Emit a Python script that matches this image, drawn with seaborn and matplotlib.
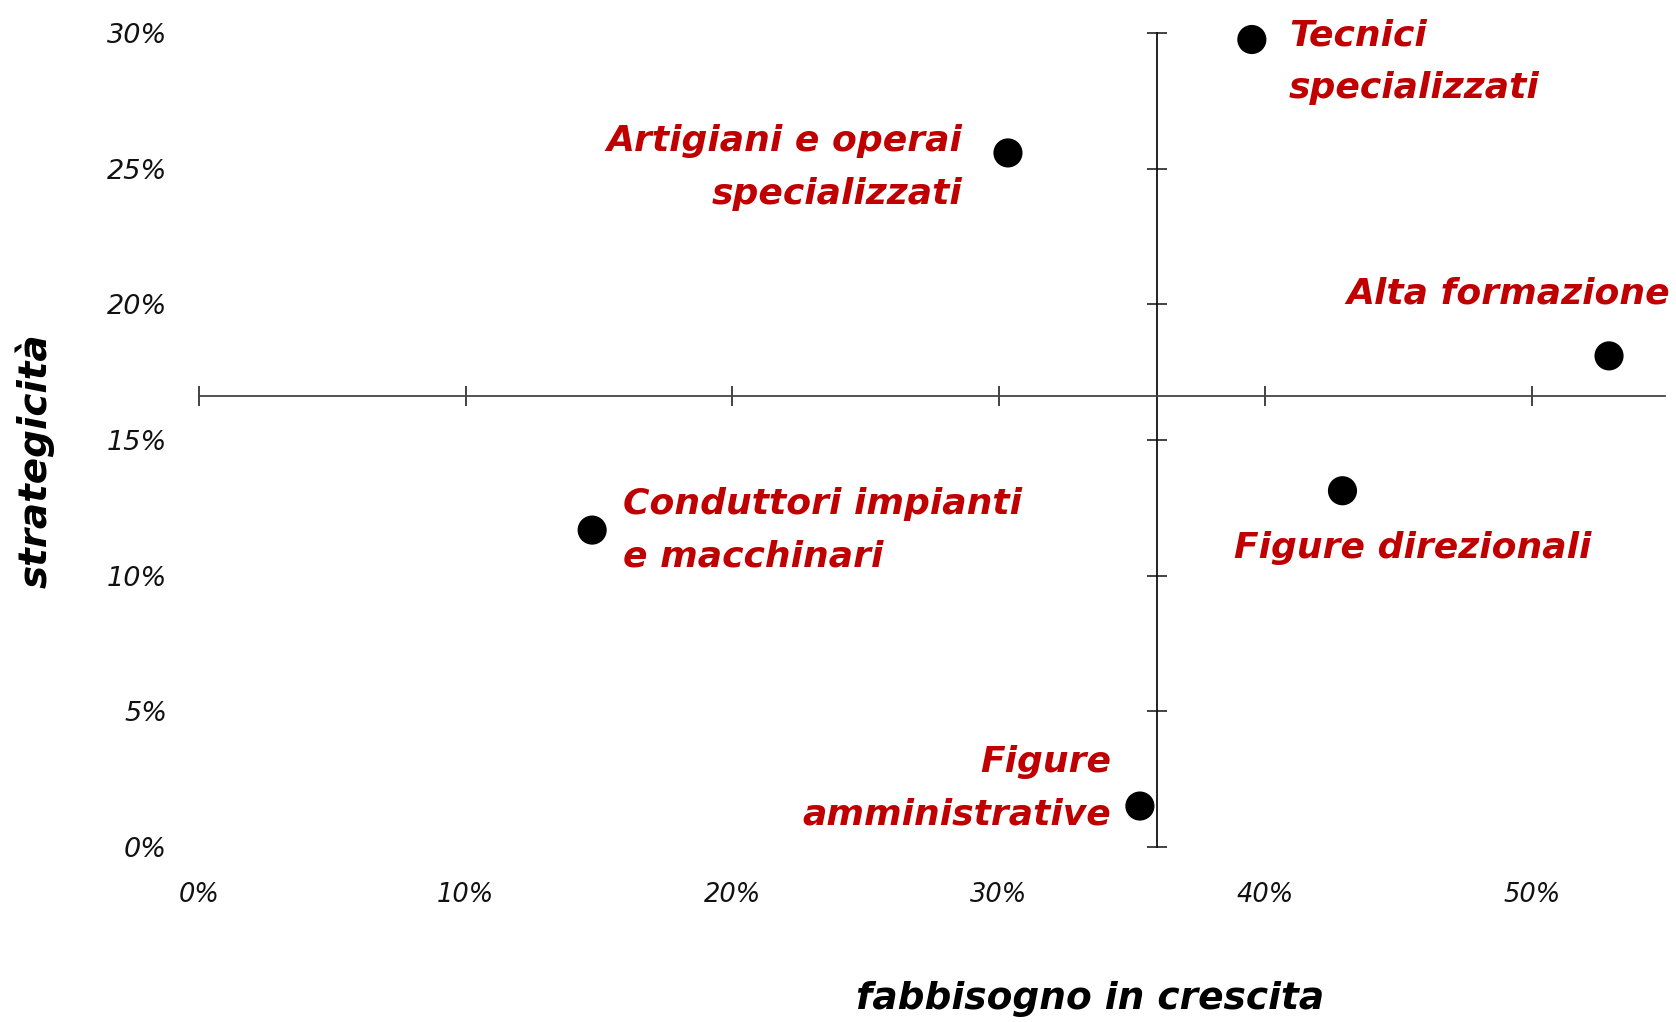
import matplotlib
matplotlib.use("Agg")
import matplotlib.pyplot as plt
import seaborn as sns
import numpy as np
import pandas as pd
from matplotlib.ticker import PercentFormatter, FixedLocator

# ---- data ----
categories = ["Tecnici\nspecializzati", "Artigiani e operai\nspecializzati", "Alta formazione",
              "Figure direzionali", "Conduttori impianti\ne macchinari", "Figure\namministrative"]
fabbisogno = [0.395, 0.3035, 0.529, 0.429, 0.1475, 0.353]
strategicita = [0.2976, 0.2558, 0.181, 0.1313, 0.1168, 0.0151]
x_ticks = [0.0, 0.1, 0.2, 0.3, 0.4, 0.5]
y_ticks = [0.0, 0.05, 0.10, 0.15, 0.20, 0.25, 0.30]
x_title = "fabbisogno in crescita"
y_title = "strategicità"

df = pd.DataFrame({"cat": categories, "x": fabbisogno, "y": strategicita})

sns.set_theme(style="white")
plt.rcParams['font.family'] = ['DejaVu Sans']

RED = "#c00000"
fig = plt.figure(figsize=(16.76, 10.22), dpi=100)
ax = fig.add_axes([199/1676, 1 - 847/1022, (1665-199)/1676, (847-33)/1022])

sns.scatterplot(data=df, x="x", y="y", ax=ax, s=440, color="black",
                edgecolor="none", clip_on=False, legend=False, zorder=5)

ax.set_xlim(0, 0.55)
ax.set_ylim(0, 0.30)

xm = float(np.mean(fabbisogno))
ym = float(np.mean(strategicita))

for s in ["top", "right"]:
    ax.spines[s].set_visible(False)
ax.spines["left"].set_position(("data", xm))
ax.spines["bottom"].set_position(("data", ym))
ax.spines["left"].set_color("#111111")
ax.spines["bottom"].set_color("#444444")
ax.spines["left"].set_linewidth(1.3)
ax.spines["bottom"].set_linewidth(1.3)

ax.xaxis.set_major_locator(FixedLocator(x_ticks))
ax.yaxis.set_major_locator(FixedLocator(y_ticks))
ax.tick_params(axis="both", direction="inout", length=15, width=1.2, color="#222222",
               labelbottom=False, labelleft=False, left=True, bottom=True)

# tick labels at the outer edges
secy = ax.secondary_yaxis(0.0)
secy.yaxis.set_major_locator(FixedLocator(y_ticks))
secy.yaxis.set_major_formatter(PercentFormatter(1.0, decimals=0))
secy.tick_params(length=0, pad=23)
secy.spines["left"].set_visible(False)
for t in secy.get_yticklabels():
    t.set_fontstyle("italic"); t.set_fontsize(19.5); t.set_color("#111111")

secx = ax.secondary_xaxis(0.0)
secx.xaxis.set_major_locator(FixedLocator(x_ticks))
secx.xaxis.set_major_formatter(PercentFormatter(1.0, decimals=0))
secx.tick_params(length=0, pad=25)
secx.spines["bottom"].set_visible(False)
for t in secx.get_xticklabels():
    t.set_fontstyle("italic"); t.set_fontsize(18.5); t.set_color("#111111")

ax.set_xlabel(x_title, fontsize=27, fontweight="bold", fontstyle="italic", color="black")
ax.set_ylabel(y_title, fontsize=28, fontweight="bold", fontstyle="italic", color="black")
ax.xaxis.label.set_va("center")
ax.yaxis.label.set_va("center")
ax.xaxis.set_label_coords(0.608, -0.187)
ax.yaxis.set_label_coords(-0.112, 0.475)

# point labels: (offset px x, offset px y, ha, multialignment)
placements = {
    "Tecnici\nspecializzati": (37, -22, "left", "left"),
    "Artigiani e operai\nspecializzati": (-46, -15, "right", "right"),
    "Alta formazione": (61, 62, "right", "right"),
    "Figure direzionali": (70, -57, "center", "center"),
    "Conduttori impianti\ne macchinari": (31, 0, "left", "left"),
    "Figure\namministrative": (-29, 18, "right", "right"),
}
for cat, xv, yv in zip(categories, fabbisogno, strategicita):
    dx, dy, ha, ma = placements[cat]
    ax.annotate(cat, (xv, yv), xytext=(dx, dy), textcoords="offset pixels",
                ha=ha, va="center", multialignment=ma, color=RED,
                fontsize=26, fontweight="bold", fontstyle="italic", linespacing=1.7,
                annotation_clip=False)

fig.savefig("out.png", dpi=100)
